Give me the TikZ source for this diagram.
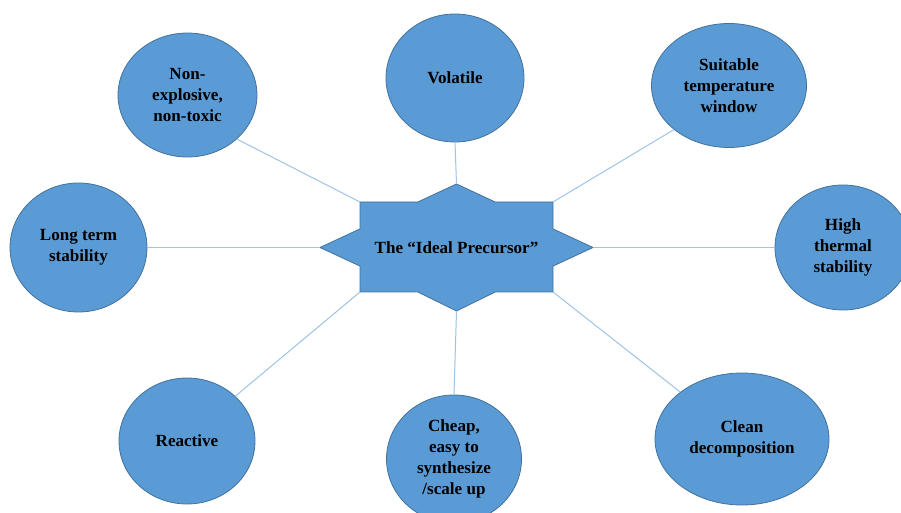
\documentclass[tikz,border=0pt]{standalone}
\usepackage{fontspec}
\setmainfont{Liberation Serif}
\usetikzlibrary{shapes.geometric}
\definecolor{bubblefill}{HTML}{5B9BD5}
\definecolor{bubbleline}{HTML}{41719C}
\definecolor{linkcol}{HTML}{9DC3E6}

\begin{document}
\begin{tikzpicture}
		[
		x = 0.75pt, y = -0.75pt,
		label font/.style = {font = \fontsize{12.8}{15.75}\selectfont\bfseries},
		bubble/.style 2 args = {ellipse, draw = bubbleline, fill = bubblefill, line width = 0.6pt,
			inner sep = 0pt, align = center, minimum width = #1pt, minimum height = #2pt, label font},
		starshape/.style = {draw = bubbleline, fill = bubblefill, line width = 0.6pt},
		link/.style = {draw = linkcol, line width = 0.75pt}
		]
		\useasboundingbox (0,0) rectangle (901,513);
		\clip (0,0) rectangle (901,513);
		
		% the eight points and corners of the star
		\coordinate (top) at (456.5,184);
		\coordinate (ur) at (553,202);
		\coordinate (right) at (593,247.5);
		\coordinate (lr) at (553,292);
		\coordinate (bottom) at (456.5,311);
		\coordinate (ll) at (360,292);
		\coordinate (left) at (320,247.5);
		\coordinate (ul) at (360,202);
		
		\filldraw[starshape] (top) -- (495.2,202) -- (ur) -- (553,228.9) -- (right)
			-- (553,266.1) -- (lr) -- (495.2,292) -- (bottom) -- (417.8,292) -- (ll)
			-- (360,266.1) -- (left) -- (360,228.9) -- (ul) -- (417.8,202) -- cycle;
		\node[label font] (centre) at (456.5,247.5) {The “Ideal Precursor”};
		
		\node[bubble = {104.25}{93}] (nontoxic) at (187.5,95) {Non-\\explosive,\\non-toxic};
		\node[bubble = {103.5}{96}] (volatile) at (455,78) {Volatile};
		\node[bubble = {116.25}{93}] (window) at (729,85.5) {Suitable\\temperature\\window};
		\node[bubble = {102.75}{96.75}] (longterm) at (78.5,247.5) {Long term\\stability};
		\node[bubble = {102}{93.75}] (thermal) at (843,247.5) {High\\thermal\\stability};
		\node[bubble = {102}{94.5}] (reactive) at (187,441) {Reactive};
		\node[bubble = {101.25}{96}] (cheap) at (454,459) {Cheap,\\easy to\\synthesize\\/scale up};
		\node[bubble = {130.5}{99}] (clean) at (742,439) {Clean\\decomposition};
		
		\draw[link] (ul) -- (nontoxic.south east);
		\draw[link] (top) -- (volatile.south);
		\draw[link] (ur) -- (window.south west);
		\draw[link] (left) -- (longterm.east);
		\draw[link] (right) -- (thermal.west);
		\draw[link] (ll) -- (reactive.north east);
		\draw[link] (bottom) -- (cheap.north);
		\draw[link] (lr) -- (clean.north west);
		
\end{tikzpicture}
\end{document}
